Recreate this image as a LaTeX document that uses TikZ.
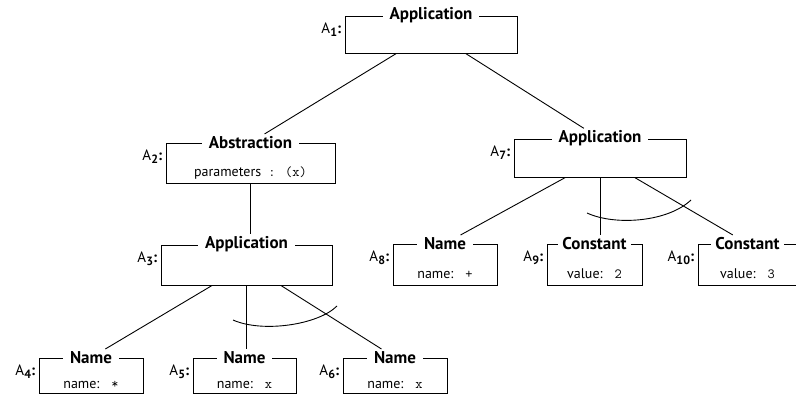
\documentclass[tikz,border=0pt]{standalone}
\usepackage{fontspec}
\setmainfont{PT Sans}
\usetikzlibrary{calc}

\tikzset{
  box/.style={draw, rectangle, inner sep=0pt},
  title/.style={fill=white, inner xsep=7pt, inner ysep=2pt, font=\fontsize{17}{19}\selectfont\bfseries},
  field/.style={anchor=base, inner sep=0pt, font=\fontsize{14}{16}\selectfont},
  lab/.style={anchor=east, inner sep=0pt, font=\fontsize{15}{17}\selectfont},
}
\newcommand{\lbl}[1]{A\raisebox{-3pt}{\fontsize{12}{14}\selectfont\bfseries #1}\textbf{:}}

\begin{document}
\begin{tikzpicture}[x=1pt, y=-1pt, line width=0.9pt]
\useasboundingbox (0,0) rectangle (796,395);
\clip (0,0) rectangle (796,395);

% boxes
\node[box, minimum width=172pt, minimum height=37pt] (a1) at (431,34.5) {};
\node[box, minimum width=169pt, minimum height=40pt] (a2) at (250.5,163) {};
\node[box, minimum width=171pt, minimum height=40pt] (a3) at (246.5,265) {};
\node[box, minimum width=104pt, minimum height=35pt] (a4) at (91,375.5) {};
\node[box, minimum width=103pt, minimum height=35pt] (a5) at (244.5,375.5) {};
\node[box, minimum width=104pt, minimum height=35pt] (a6) at (395,375.5) {};
\node[box, minimum width=172pt, minimum height=38pt] (a7) at (600,158) {};
\node[box, minimum width=104pt, minimum height=41pt] (a8) at (445,264.5) {};
\node[box, minimum width=95pt, minimum height=41pt] (a9) at (594.5,264.5) {};
\node[box, minimum width=99pt, minimum height=41pt] (a10) at (747.5,264.5) {};

% titles sit on the top edge
\node[title] (t1) at (a1.north) {Application};
\node[title] (t2) at (a2.north) {Abstraction};
\node[title] (t3) at (a3.north) {Application};
\node[title] (t4) at (a4.north) {Name};
\node[title] (t5) at (a5.north) {Name};
\node[title] (t6) at (a6.north) {Name};
\node[title] (t7) at (a7.north) {Application};
\node[title] (t8) at (a8.north) {Name};
\node[title, inner xsep=4pt] (t9) at (a9.north) {Constant};
\node[title, inner xsep=4pt] (t10) at (a10.north) {Constant};

% labels
\node[lab] (l1) at ([shift={(-3pt,-14pt)}]a1.north west) {\lbl{1}};
\node[lab] (l2) at ([shift={(-3pt,-14pt)}]a2.north west) {\lbl{2}};
\node[lab] (l3) at ([shift={(-3pt,-14pt)}]a3.north west) {\lbl{3}};
\node[lab] (l4) at ([shift={(-3pt,-14pt)}]a4.north west) {\lbl{4}};
\node[lab] (l5) at ([shift={(-3pt,-14pt)}]a5.north west) {\lbl{5}};
\node[lab] (l6) at ([shift={(-3pt,-14pt)}]a6.north west) {\lbl{6}};
\node[lab] (l7) at ([shift={(-3pt,-14pt)}]a7.north west) {\lbl{7}};
\node[lab] (l8) at ([shift={(-3pt,-14pt)}]a8.north west) {\lbl{8}};
\node[lab] (l9) at ([shift={(-3pt,-14pt)}]a9.north west) {\lbl{9}};
\node[lab] (l10) at ([shift={(-3pt,-14pt)}]a10.north west) {\lbl{10}};

% fields
\node[field] (f2) at ([yshift=7pt]a2.south) {parameters\texttt{ : (x)}};
\node[field] (f4) at ([yshift=5pt]a4.south) {name:\,\texttt{ *}};
\node[field] (f5) at ([yshift=5pt]a5.south) {name:\,\texttt{ x}};
\node[field] (f6) at ([yshift=5pt]a6.south) {name:\,\texttt{ x}};
\node[field] (f8) at ([yshift=7pt]a8.south) {name:\,\texttt{ +}};
\node[field] (f9) at ([yshift=7pt]a9.south) {value:\,\texttt{ 2}};
\node[field] (f10) at ([yshift=7pt]a10.south) {value:\,\texttt{ 3}};

% edges
\draw ($(a1.south west)!.3!(a1.south east)$) -- (t2);
\draw ($(a1.south west)!.7!(a1.south east)$) -- (t7);
\draw (a2.south) -- (a2.south |- t3.north);
\draw ($(a3.south west)!.3!(a3.south east)$) -- (t4);
\draw (a3.south) -- (a3.south |- t5.north);
\draw ($(a3.south west)!.7!(a3.south east)$) -- (t6);
\draw ($(a7.south west)!.3!(a7.south east)$) -- (t8);
\draw (a7.south) -- (a7.south |- t9.north);
\draw ($(a7.south west)!.7!(a7.south east)$) -- (t10);

% arcs over the argument edges
\draw (233,320) .. controls (262,333) and (318,325) .. (337,306);
\draw (587,213) .. controls (615,226) and (668,222) .. (691,200);
\end{tikzpicture}
\end{document}
